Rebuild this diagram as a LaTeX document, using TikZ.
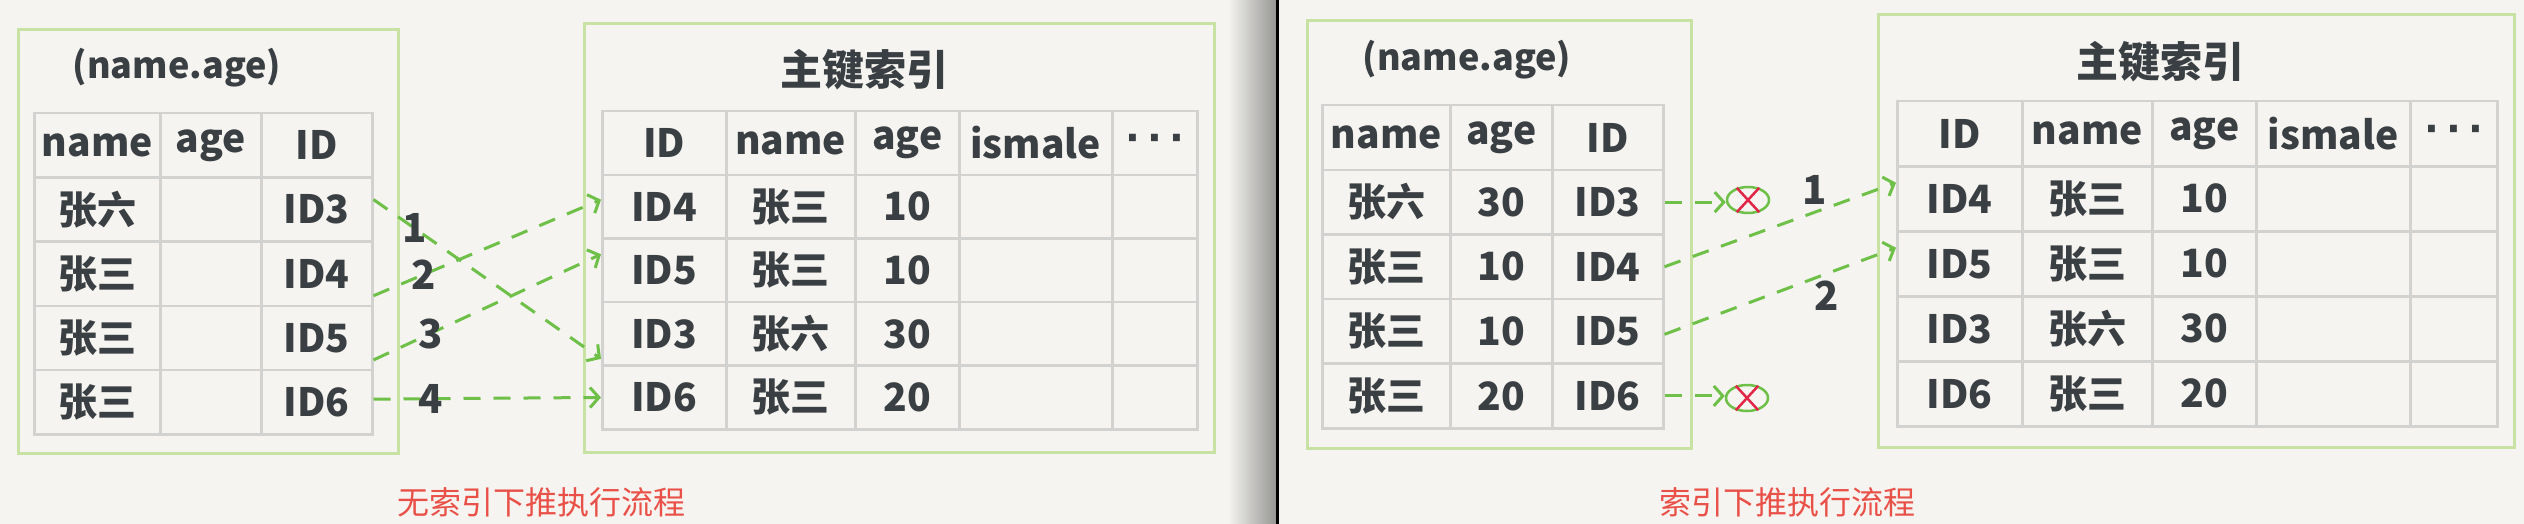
\documentclass[tikz,border=0pt]{standalone}
\usepackage{fontspec}
\setmainfont{Noto Sans CJK SC}
\newfontfamily\dotfont{DejaVu Sans}
\usetikzlibrary{
    arrows.meta,
    shapes.geometric,
    shapes.misc
}
\definecolor{paper}{RGB}{245,244,240}
\definecolor{edge}{RGB}{150,150,148}
\definecolor{boxgreen}{RGB}{200,226,164}
\definecolor{gridgray}{RGB}{210,210,208}
\definecolor{arrowgreen}{RGB}{110,192,72}
\definecolor{ink}{RGB}{58,63,67}
\definecolor{capred}{RGB}{233,80,72}
\definecolor{crossred}{RGB}{226,38,72}
\tikzset{
  cell/.style={
    draw=gridgray,
    line width=2.5pt,
    anchor=north west,
    inner sep=0pt,
    text=ink,
    font=\bfseries\fontsize{39}{40}\selectfont
  },
  panel/.style={
    draw=boxgreen,
    line width=3pt
  },
  title/.style={
    text=ink,
    font=\bfseries\fontsize{42}{44}\selectfont
  },
  fetch/.style={
    draw=arrowgreen,
    line width=3pt,
    dash pattern=on 17pt off 13pt,
    -{Straight Barb[length=9pt,width=20pt]}
  },
  num/.style={
    text=ink,
    inner sep=1pt,
    font=\bfseries\fontsize{40}{40}\selectfont
  },
  reject/.style={
    draw=arrowgreen,
    ellipse,
    line width=2.5pt,
    minimum width=42pt,
    minimum height=26pt,
    inner sep=0pt
  },
  crossmark/.style={
    draw=crossred,
    cross out,
    line width=2.5pt,
    minimum width=20pt,
    minimum height=22pt,
    inner sep=0pt
  },
  caption/.style={
    text=capred,
    font=\fontsize{32}{34}\selectfont
  }
}

\begin{document}
\begin{tikzpicture}[x=1pt, y=-1pt]
    \useasboundingbox (0,0) rectangle (2524,524);

    % 背景
    \fill[paper] (0,0) rectangle (1228,524);
    \shade[left color=paper, right color=edge] (1228,0) rectangle (1276,524);
    \fill[black] (1276,0) rectangle (1279,524);
    \fill[paper] (1279,0) rectangle (2524,524);

    % 枠
    \draw[panel] (18,30) rectangle (398,453);
    \draw[panel] (584,24) rectangle (1214,452);
    \draw[panel] (1307,21) rectangle (1691,448);
    \draw[panel] (1878,15) rectangle (2514,447);

    % 見出し
    \node[title, font=\bfseries\fontsize{36}{40}\selectfont] (ia-title) at (177,68) {(name.age)};
    \node[title] (pa-title) at (864,70) {主键索引};
    \node[title, font=\bfseries\fontsize{36}{40}\selectfont] (ib-title) at (1467,60) {(name.age)};
    \node[title] (pb-title) at (2160,62) {主键索引};

    % 左：索引 (name,age)
    \foreach \r/\na/\ag/\id in {0/name/age/ID, 1/张六//ID3, 2/张三//ID4, 3/张三//ID5, 4/张三//ID6} {
        \node[cell, minimum width=126pt, minimum height=64.2pt] (ia-\r-1) at (33,{112+64.2*\r}) {\na};
        \node[cell, minimum width=101pt, minimum height=64.2pt] (ia-\r-2) at (159,{112+64.2*\r}) {\ag};
        \node[cell, minimum width=111pt, minimum height=64.2pt] (ia-\r-3) at (260,{112+64.2*\r}) {\id};
    }

    % 左：主键索引
    \foreach \r/\id/\na/\ag/\ex/\more in {0/ID/name/age/ismale/{\dotfont ·\hspace{7pt}·\hspace{7pt}·}, 1/ID4/张三/10//, 2/ID5/张三/10//, 3/ID3/张六/30//, 4/ID6/张三/20//} {
        \node[cell, minimum width=124pt, minimum height=63.6pt] (pa-\r-1) at (601,{110+63.6*\r}) {\id};
        \node[cell, minimum width=129pt, minimum height=63.6pt] (pa-\r-2) at (725,{110+63.6*\r}) {\na};
        \node[cell, minimum width=104pt, minimum height=63.6pt] (pa-\r-3) at (854,{110+63.6*\r}) {\ag};
        \node[cell, minimum width=153pt, minimum height=63.6pt] (pa-\r-4) at (958,{110+63.6*\r}) {\ex};
        \node[cell, minimum width=85pt, minimum height=63.6pt] (pa-\r-5) at (1111,{110+63.6*\r}) {\more};
    }

    % 右：索引 (name,age)
    \foreach \r/\na/\ag/\id in {0/name/age/ID, 1/张六/30/ID3, 2/张三/10/ID4, 3/张三/10/ID5, 4/张三/20/ID6} {
        \node[cell, minimum width=128pt, minimum height=64.6pt] (ib-\r-1) at (1321,{104+64.6*\r}) {\na};
        \node[cell, minimum width=102pt, minimum height=64.6pt] (ib-\r-2) at (1449,{104+64.6*\r}) {\ag};
        \node[cell, minimum width=111pt, minimum height=64.6pt] (ib-\r-3) at (1551,{104+64.6*\r}) {\id};
    }

    % 右：主键索引
    \foreach \r/\id/\na/\ag/\ex/\more in {0/ID/name/age/ismale/{\dotfont ·\hspace{7pt}·\hspace{7pt}·}, 1/ID4/张三/10//, 2/ID5/张三/10//, 3/ID3/张六/30//, 4/ID6/张三/20//} {
        \node[cell, minimum width=125pt, minimum height=65pt] (pb-\r-1) at (1896,{100+65*\r}) {\id};
        \node[cell, minimum width=130pt, minimum height=65pt] (pb-\r-2) at (2021,{100+65*\r}) {\na};
        \node[cell, minimum width=104pt, minimum height=65pt] (pb-\r-3) at (2151,{100+65*\r}) {\ag};
        \node[cell, minimum width=154pt, minimum height=65pt] (pb-\r-4) at (2255,{100+65*\r}) {\ex};
        \node[cell, minimum width=87pt, minimum height=65pt] (pb-\r-5) at (2409,{100+65*\r}) {\more};
    }

    % 回表（左）
    \draw[fetch] ([yshift=10pt]ia-1-3.east) -- node[num, pos=0.18] {1} ([yshift=-25pt]pa-3-1.west);
    \draw[fetch] ([yshift=-22pt]ia-2-3.east) -- node[num, pos=0.22] {2} ([yshift=7pt]pa-1-1.west);
    \draw[fetch] ([yshift=-22pt]ia-3-3.east) -- node[num, pos=0.25] {3} ([yshift=16pt]pa-2-1.west);
    \draw[fetch] ([yshift=3pt]ia-4-3.east) -- node[num, pos=0.25] {4} (pa-4-1.west);

    % 回表（右）
    \node[reject] (xa) at (1748,200) {};
    \node[crossmark] (xa-cross) at (xa) {};
    \node[reject] (xb) at (1747,398) {};
    \node[crossmark] (xb-cross) at (xb) {};
    \draw[fetch] (ib-1-3.east) -- (ib-1-3.east -| xa.west);
    \draw[fetch] (ib-4-3.east) -- (ib-4-3.east -| xb.west);
    \draw[fetch] (ib-2-3.east) -- node[num, pos=0.65, above=5pt] {1} ([yshift=16pt]pb-1-1.west);
    \draw[fetch] ([yshift=-3pt]ib-3-3.east) -- node[num, pos=0.7, below=5pt] {2} ([yshift=16pt]pb-2-1.west);

    % 説明
    \node[caption] (cap-a) at (541,502) {无索引下推执行流程};
    \node[caption] (cap-b) at (1787,502) {索引下推执行流程};
\end{tikzpicture}
\end{document}
